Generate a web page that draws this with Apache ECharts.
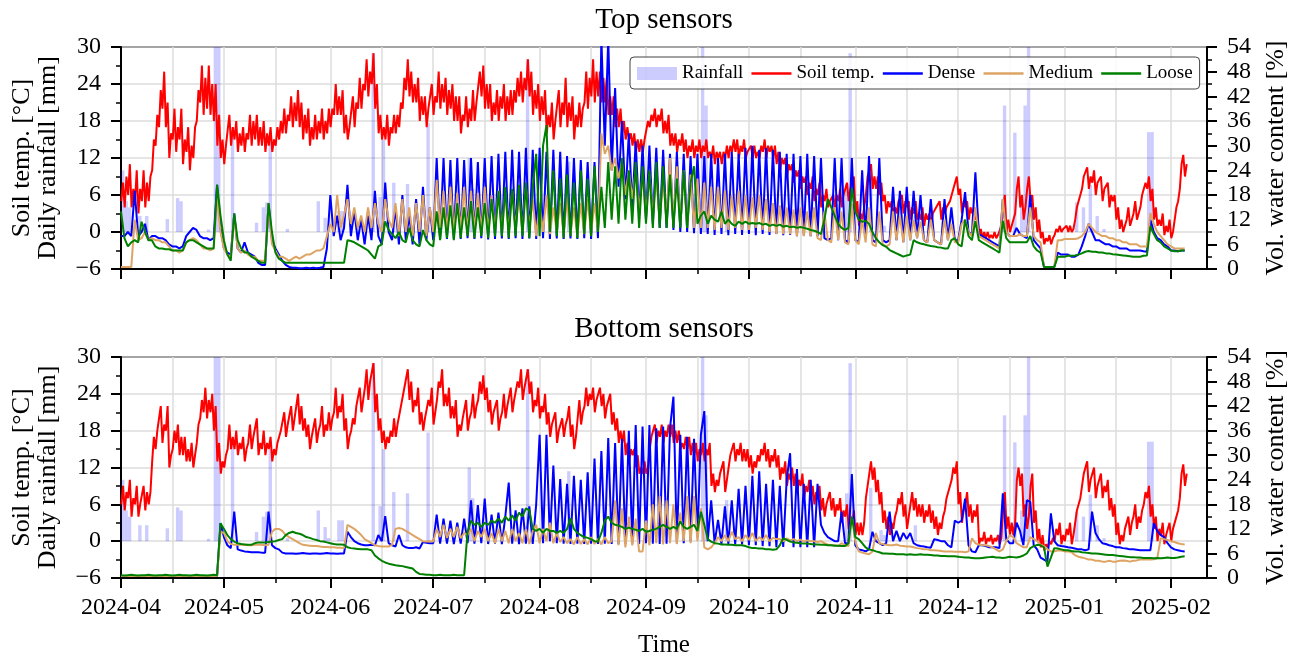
<!DOCTYPE html>
<html><head><meta charset="utf-8">
<script src="https://cdn.jsdelivr.net/npm/echarts@6/dist/echarts.min.js"></script>
<style>html,body{margin:0;padding:0;background:#fff}#c{width:1300px;height:661px}</style>
</head><body><div id="c"></div>
<script>
// Daily values starting 2024-04-01 (index = days since start)
const rainfall = [
10,5,4,0,0,2.6,0,2.6,0,0, 0,0,0,2.1,0,0,5.5,5,0,0, 0,0,0,0,0,0.4,0,30,30,0, 0,0,15.7,0,0,0,0,0,0,1.5,
0,4,4.8,15,0,0,0,0,0.5,0, 0,0,0,0,0,0,0,5,0,2.3, 0.5,0,0,3.4,3.4,0,0,0,0,0, 0,0,0,29,0,5.7,15,0,0,8,
0,0,0,7.8,0,0,0,0,0,17.7, 0,0,0,0,0,0,0,0,0,0, 0,12,7,0,0,0,0,0,0,0, 0,0,0,0,0,0,0,0,28,0,
0,0,0,0,0,0,0,0,0,0, 11.4,0,0,0,0,0,0,0,0,0, 0,0,0,0,0,0,0,0,0,0, 0,0,0,0,0,0,0,0,0,0,
0,0,0,0,0,0,0,0,0,30, 20.5,0,0,0,0,0,6.7,0,0,0, 0,0,0,0,0,0,0,0,0,0, 0,0,0,0,0,0,0,0,0,0,
0,0,0,0,0,0,0,0,0,0, 0,7.8,29,0,0,0,0,0,8.7,0, 0,1.8,1,0,0,0,0,0,0,0, 0,2.6,0,0,0,0,0,0,0,0,
0,0,0,0,0,0,0,0,0,0, 0,0,0,0,0,0,0,20.5,0,0, 16.1,0,5,20.5,30,0,0,0,0,0, 0,0,0,0,0,0,0,0,4.8,0,
4,0,7.6,0,2.6,0,0.5,0,0,0, 0,0,0,0,0,0,0,0,0,16.2, 16.2,0,0,0,0,0,0,0,0,0, 0];

// Soil temperature every 12 h (night value, day value) starting 2024-04-01 00:00
const topTemp = [
5,8,4,9,6,11,4,7,5,10,3,7,5,10,4,8,5,9,10,15,
14,19,17,23,20,26,17,21,12,16,15,20,13,17,15,20,11,15,13,17,
10,14,12,17,18,23,21,27,19,25,20,27,19,24,18,24,14,19,12,15,
11,14,14,19,14,17,15,18,13,16,14,17,13,16,15,19,14,18,15,19,
14,17,14,18,13,16,14,17,13,15,14,17,15,18,16,20,16,19,18,22,
17,21,18,23,17,21,15,19,16,20,14,17,15,19,15,18,16,20,15,18,
16,20,17,20,19,24,19,22,19,23,16,19,15,17,17,22,17,21,20,25,
20,24,23,28,22,26,24,29,20,24,16,19,15,17,15,19,14,17,16,19,
16,19,17,21,20,25,23,28,22,26,21,24,21,25,18,22,19,22,17,20,
20,24,19,22,21,26,20,24,21,25,19,23,20,24,18,22,18,22,16,19,
18,22,17,20,18,23,18,21,21,26,22,27,20,24,20,24,18,21,19,23,
18,22,20,24,18,22,19,23,19,23,21,25,22,26,21,25,23,28,22,26,
19,23,20,24,18,22,19,23,16,19,17,21,15,18,18,23,17,21,19,25,
17,21,18,22,15,19,17,21,17,20,21,26,20,25,22,28,21,26,22,26,
21,25,21,25,19,22,19,22,17,20,17,20,16,18,15,17,15,16,14,16,
13,15,13,15,13,15,15,18,17,19,18,20,17,19,18,20,16,18,16,19,
14,16,14,16,13,15,14,16,13,15,12,14,13,15,12,14,13,15,12,14,
13,15,12,13,12,14,11,13,12,13,11,13,12,14,12,14,13,15,13,15,
12,14,13,15,12,13,13,14,12,14,12,13,12,14,13,15,12,14,13,14,
12,14,11,13,10,12,11,12,9,11,10,11,8,10,9,10,7,9,8,9,
6,8,7,9,5,7,6,8,4,6,5,7,4,5,5,6,4,6,5,7,
4,6,6,8,5,7,7,9,3,5,1,3,2,4,6,9,9,11,7,9,
7,9,6,8,5,6,3,5,4,5,3,4,3,5,5,6,3,5,4,5,
2,4,3,5,2,3,2,4,1,3,2,3,1,3,3,4,4,5,2,4,
3,4,4,5,5,7,7,9,6,7,3,5,4,5,2,4,3,4,2,3,
-0.5,0.5,-1,0,-1,0,-1,-0.5,-1,0,-1,-0.5,-0.5,1,4,6,0,2,0,1,
1,3,7,9,4,6,2,4,7,9,5,6,2,4,0,2,-1,0,-2,-1,
-1.5,-0.5,-2,-1,-0.5,0.5,0,1,0,0.5,0.5,1,0,1,0,0.5,2,4,4,6,
7,9,9,10.5,7,9,8,10,6,8,8,9,5,7,7,8,4,6,5,6,
2,4,0.5,2,0,1,2,4,1,2,3,5,2,3,4,6,6,8,7,9,
5,7,2,4,1,2,1,3,-0.5,1,0,2,-1,0,2,4,5,7,11,12.5,9,11];

const bottomTemp = [
6,9,5,8,7,10,4,7,6,9,4,6,6,9,5,8,6,8,13,17,
15,18,18,22,16,19,18,22,12,14,15,18,16,19,14,17,14,17,13,15,
13,16,12,14,16,19,20,23,21,25,20,23,21,24,18,22,13,16,11,13,
12,14,15,19,15,17,15,18,14,16,15,17,13,15,16,19,15,17,17,20,
14,16,15,18,14,16,15,17,13,15,14,16,16,18,18,21,17,19,19,22,
18,20,20,24,19,22,18,20,17,19,15,17,17,20,16,18,19,22,17,19,
18,21,18,20,21,25,20,22,21,24,18,20,15,17,18,20,19,22,22,25,
21,23,25,28,23,26,26,29,21,24,18,20,16,18,15,17,16,18,17,20,
17,19,19,22,22,25,25,28,23,26,21,23,22,25,19,21,18,20,20,23,
22,25,19,21,23,26,25,28,22,24,22,25,20,22,20,23,17,19,18,20,
20,23,18,20,21,24,20,22,23,26,24,27,23,25,21,23,19,21,21,23,
18,20,21,24,20,22,22,25,21,23,23,26,25,28,23,25,25,28,24,26,
21,23,22,25,20,22,21,24,19,21,17,19,19,21,16,18,18,20,17,19,
20,22,17,19,15,17,20,23,19,21,22,25,22,24,23,25,21,23,23,25,
22,24,20,22,22,24,19,21,18,20,16,18,16,18,14,16,13,15,14,15,
12,14,11,12,11,13,11,12,15,17,17,19,16,18,17,19,16,18,17,19,
17,19,16,18,16,18,15,16,15,17,15,17,14,16,14,16,13,15,14,16,
13,15,14,16,9,11,8,10,9,11,11,13,8,10,12,14,14,16,13,15,
14,16,13,15,13,15,12,14,11,13,12,14,13,15,14,16,13,15,12,14,
13,15,12,14,10,12,11,13,9,11,10,12,9,11,8,10,9,11,7,9,
8,10,7,9,6,8,7,9,5,7,4,6,6,8,5,7,4,6,5,7,
3,5,4,6,2,4,3,5,1,3,1,3,1,3,7,9,11,13,10,12,
8,10,6,8,3,5,2,4,1,3,2,4,5,7,6,8,4,6,2,4,
6,8,5,7,4,6,4,6,3,5,4,6,3,5,2,4,1,3,2,4,
5,7,7,9,10,12,11,13,6,8,3,5,6,8,4,6,3,5,4,6,
-0.5,0.5,0,1.5,-0.5,0.5,0,1,-0.5,0.5,0,1,-0.5,0.5,6,8,2,4,1,3,
1,3,10,12,9,11,4,6,2,4,9,11,3,5,0,2,-1,1,-1.5,-0.5,
-1,0,-0.5,0.5,0,2,1,3,-0.5,1,0,2,1,3,-0.5,1,3,5,5,7,
9,11,11,13,8,10,10,12,7,9,9,11,7,9,8,10,5,7,4,6,
1,3,-0.5,1,0,2,2,4,1,3,4,6,2,4,3,5,6,8,7,9,
4,6,2,4,0,2,1,3,-0.5,1,1,3,0,2,2,4,5,7,11,12.5,9,11];

// Volumetric water content [%], daily
const topDense = [
8,8,9,8,19,8,9,11,7,8, 8,7.5,7.5,7,6,5.5,5.5,5,5.5,8, 9,10,9.5,8,7.5,7.5,7,7.5,20.5,10, 5,4,3.5,13.5,5,4,6.5,4,3.5,3,
1.5,1,1,16,7,5,3.5,2,1,0.5, 0.3,0.3,0.2,0.2,0.3,0.2,0.3,0.2,0.3,0.5, 5,18,8,13,7,10,20.5,8,14,7, 12,6,13,7,19,8,6,21,9,7,
15,6,18,7,13,6,17,6,20,7, 15,7,27,7.3,27,7.3,26.5,7.3,27,7.3, 26.5,7.5,27,7.3,26,7.5,27,7.2,27.5,7.3, 28,7.4,28.5,7.3,29,7.5,28.5,7.3,29.5,7.4,
29,7.3,29.5,7.5,28.5,7.3,29,7.4,28.5,7.3, 27.5,7.4,27,7.3,26.5,7.5,26,7.3,26,7.5, 56,30,56,24,44,20,36,17,33,15, 31,13,30,12,30,11,29.5,10,29,10,
28,9.5,28.5,9,28,9,27.5,8.7,28,8.5, 27.5,8.5,28,8.3,27,8.5,28,8.2,28.5,8.5, 28,8.3,29.5,8.5,30,8.2,29,8.5,29.5,8.3, 29,8.5,28.5,8.2,28,8.3,28,8,27.5,8.2,
28,8,27.5,8,27,7.5,7,7.5,27,7, 27,7,6.5,27,7,6.5,24,7.5,27.5,7, 6.5,27,7,6.5,7,20,7,19,6.5,20, 7,19,7.5,18,7,6.5,17,7,6.5,6,
17,7,15,7,7,12,18.7,9,8.5,23.5, 8.5,8,7.5,7,6.5,6,5.5,17,9,8, 8,10,8.5,8,7.5,18,7,6,5,0.5, 0.5,0.5,0.5,4,3.5,3.5,3.5,3,3,3.5,
5.5,8,11,9,7,7,6.5,6,6,5.5, 5.5,5,5,5,4.5,4.5,4.5,4.5,4.3,4.2, 12,9,7.5,7,6,5.5,4.5,4.5,4.3,4.5, 4.5];

const topMedium = [
0.5,0.5,0.5,0.5,12,7,7.5,9,7,7.5, 7,7,6.5,6.5,5.5,4.5,4.5,4,4.5,6.5, 7,7.5,7,6,5,5,4.5,5,17.3,9, 5,3.5,3,13,5,4,4.5,3.5,3,3,
2,2,2,16,6,4.5,3,3,2.5,2, 2.5,3,2.5,3,3.5,3.5,4,4.5,4.5,5, 8,11,9,18,10,13,17,11,15,10, 13,9,15,10,16,11,9,17,12,10,
16,8,17,9,15,8,16,9,18,8, 15,9,21.7,10,19,9,20,9,18.5,9.5, 20,9,19,9.5,18.5,9,20,9,18,9.5, 19,9,18.5,9,19,10,18,9,20,10,
17,8,16,9,18,8.5,15,9,16,8.5, 17,8.5,15,8,16,8.5,17,8.7,16,9, 33,28,30,24,27,22,26,18,24,17, 24,14,23,13,23,13,22,12,22,12,
27,11,25,11,24,10,23,10,22,10, 21,10,20,9.5,20,10,19,9.5,18,10, 19,9.5,18,9.5,17.5,10,18,9.5,17,9, 16,8.5,15.5,8.5,15,8.5,14.5,8,15,8,
14,8,15,7.5,7,14,7,6.5,15,7, 14,6.5,6,16,7,6,12,6.5,15,6, 5.5,14,6,5.5,6,14,7,13,6.5,13, 7,12,7.5,11.5,7,6.5,12,7,6.5,6,
12,7,11,6.5,6.5,11,12,9,8,15, 8,7.5,7,6.5,6,5.5,5,17,9,8, 8,8,8.5,8,8,15,8,7,6.5,0.5, 0.5,0.5,0.5,7,7,7.3,7.3,7.3,7.3,7.5,
8,9,11,10,9,8.5,8,8,7.5,7.5, 7,7,6.5,6.5,6,6,6,5.5,5.5,5.5, 13.6,11,9,8,7,6,5.5,5,5,5, 5];

const topLoose = [
14,7.5,5.5,6.5,7,6.5,11.5,9,7,7, 5.5,5,5,4.8,4.8,4.5,4.5,4.5,4.5,6.5, 7,7,6.5,6,5.5,5,5,5,20.5,13, 7,3.5,2,13.5,7,5,4,4,3,2.5,
2,1.5,1.5,16,9,4,2.5,2,1.5,1.5, 1.5,1.5,1.5,1.5,1.5,1.5,1.5,1.5,1.5,1.5, 1.5,1.5,1.5,1.5,1.5,1.5,7,6.8,6.5,6, 5.5,5,4.5,3.5,2.5,5.5,6,11.6,9.5,8.5,
7.5,9,7,6.5,10,7,6,5.5,9.5,7, 6,5.5,14,7,15,7.5,15.5,7,16,7.5, 15,8,16.5,7.5,15,8,16,7.5,17,8, 19,8,20,7.5,19.5,8,20.5,8,21,7.5,
20,28,8,30,35,9,24,8,22,7.5, 23,8,21,7.5,24,8.5,22,8,25,9, 20,10,26,12,25,11,27,12,24,11, 26,10,25,11,24,10,26,10,25,10,
23,10,22,10,24,10,21,25,11,13, 14,11,13,12,11.5,14,11,12,11,10.5, 11.5,11,11.5,11,11.2,11,11.2,10.8,11,10.5, 10.8,10.5,10.8,10.3,10.5,10.2,10.3,10,10.2,10,
9.8,9.5,9.3,9,8.5,12,17,15,13,11, 10,9.5,10,19.7,14,12,11.5,11.7,11,9, 7.5,6.5,5.8,5.4,4.6,4.2,3.8,3.4,3,3.3, 3.5,7,6.5,6.2,6,5.8,5.6,5.5,5.3,5.2,
5,5,7,7.5,6,5.5,12,8,7,11.7, 7,6.5,6,5.5,5,4.5,4,11.7,7.5,6.5, 6.5,6.5,6.5,6.5,6.5,8,5.5,4.5,4,0.5, 0.5,0.5,0.5,3,3,3,3.2,3.2,3.3,3.5,
3.8,4.2,4.4,4.2,4.2,4,4,3.8,3.8,3.6, 3.5,3.4,3.3,3.2,3.1,3,3,3,3.2,3.3, 10.4,8.5,7,6.5,5.5,5,4.5,4.3,4.3,4.5, 4.5];

const bottomDense = [
0.5,0.5,0.5,0.5,0.5,0.5,0.5,0.5,0.5,0.5, 0.5,0.5,0.5,0.5,0.5,0.5,0.5,0.5,0.5,0.5, 0.5,0.5,0.5,0.5,0.5,0.5,0.5,0.5,0.5,13.4, 10,8,7.3,16.2,7,6.7,6.5,6.4,6.3,6.3,
6.3,6.2,6.2,16.2,8,7.3,7,6.2,6,6, 6,5.9,6,6.1,6,5.9,6,6,5.9,6, 6.1,6,6,5.9,6,6,11.3,10,9,8.5, 8.2,8,8,8.1,8,10.5,9,15.1,8.5,8,
7.7,10.5,8,7.5,7.3,7.3,7.5,7.2,8.8,8.6, 8.5,8.5,15.5,8.4,14.5,8.4,14,8.3,13.5,8.4, 14.5,8.5,19,8.4,17.8,8.5,19.4,8.3,15.5,8.4, 16,8.3,15,23.3,8.4,16.5,8.3,17,8.4,17.5,
8.3,18,35,8.5,35,9,27.5,8.5,24.2,8.4, 23,8.3,25,8.4,24,8.3,25.8,8.4,29.2,8.3, 31,8.4,34.2,8.3,33,8.4,34,8.3,36,8.4, 37.4,8.3,37,8.5,37.4,8.4,36.6,8.3,37,8.4,
36.6,44.3,8.5,35,8.5,34.5,9,34,10,35, 40.8,9,19,8.5,14.2,8.3,17.5,8.3,19,8.2, 21.8,8.2,22.5,8,25,8,26.1,7.8,23,7.8, 24,7.5,22.5,7.6,24,30.5,7.5,26.6,7.5,23,
7.5,24,7.5,23,13,11,10,9.5,9,9, 16.2,8.5,8.5,25.4,8,7,6.8,6.5,7,11.3, 9,8.5,8,8.5,16.2,9,11.5,9,11,9.5, 11,8.5,8,7.8,7.7,7.5,7.4,9.5,9.3,9,
9,8,7.5,14,13.5,14,19.4,8,6.5,6.3, 8,8,7.8,7.5,7.5,7.5,7.3,20.7,9.5,8.5, 8.5,13.5,11.5,8,19,18.6,8,7,5,4.5, 4,15.8,9,8,7.8,7.7,7.5,7.4,7.2,7,
7,6.8,7,16.2,11,9.5,8.5,8.3,8,7.8, 7.5,7.5,7.3,7.2,7,7,6.9,6.8,6.8,6.8, 6.8,13.4,11.5,10.5,10,8.5,7.5,7,6.8,6.6, 6.5];

const bottomMedium = [
0.5,0.5,0.5,0.5,0.5,0.5,0.5,0.5,0.5,0.5, 0.5,0.5,0.5,0.5,0.5,0.5,0.5,0.5,0.5,0.5, 0.5,0.5,0.5,0.5,0.5,0.5,0.5,0.5,0.5,11.3, 11,9,8.3,8.1,8.1,8.1,8.1,8,8,8.1,
8.1,8.1,8,8.1,11.3,12,12,11.5,10.5,10, 9.5,9,8.5,8.1,8,7.9,7.8,7.8,7.7,7.6, 7.6,7.5,7.5,7.4,7.4,7.3,13,12.5,12,11.3, 10.5,9.5,9,8.5,8,7.8,7.7,7.7,7.7,8.1,
12,12.2,12,11.5,11,10.5,10,9.5,9,8.9, 9,8.9,12,10,13,9.8,12,10,12.5,9.7, 11,10.5,12,9,11.5,10,12,9,11,8.5, 12,9,11.5,8.5,12,9,11,8.5,12,8.3,
11.5,13,8.5,12,9,13.5,8.5,11,8.8,10, 8.5,9.5,8.2,10,8.3,9.5,8.2,10,8.3,9.5, 8.2,10,8.5,9,19,8,17,7.5,15,8, 14.5,6.5,6.5,14,8,18,8.5,20,8.2,19,
8.5,18,8.3,16,9,20,8.5,20,9,17, 7.5,7,7.5,8.5,10,9,10.5,9,11.3,9.5, 10,9,10.5,9.3,11,9,10,9.2,10.5,9, 9.8,9.5,9.5,9,9.7,9.2,9.5,9,9.4,8.9,
9.2,9,9,8.8,9,8.5,8.2,8,8,7.8, 8.5,8,7.8,15,9,6.5,6.2,6,5.8,6.5, 11,8.5,8.3,8.1,8,8,8.2,7.9,7.8,7.7, 7.7,7.5,7.3,7.2,7,7,6.8,6.8,6.7,6.6,
6.5,6.5,6.5,6.4,6.4,6.4,6.3,6.5,9.7,8.5, 8.2,8,8,7.8,7.5,7,6.5,7,9,10.5, 10,8.5,8,7.5,7.5,10,9.5,9,8.1,7.8, 7,6.5,6.5,6.7,6.7,6.5,6.5,6.3,5.6,5.2,
5,4.8,4.5,4.5,4.2,4.2,4,4,4.2,4, 4,4.2,4.3,4.2,4,4.2,4.3,4.5,4.5,4.5, 4.5,4.6,4.8,9.7,9.5,9.3,9,8.8,8.5,8.3, 8.2];

const bottomLoose = [
0.7,0.6,0.7,0.8,0.7,0.6,0.7,0.7,0.8,0.7, 0.6,0.7,0.7,0.8,0.7,0.6,0.7,0.8,0.7,0.7, 0.6,0.7,0.8,0.7,0.7,0.6,0.7,0.8,0.7,13.4, 12,10.5,9.5,8.9,8.5,8.3,8.2,8.1,8.1,8.5,
8.7,8.7,8.7,8.8,8.9,9,9.3,9.5,10.5,11, 11.3,11,10.8,10.5,10,9.8,9.5,9.3,9,8.9, 8.7,8.5,8.3,8.2,8.2,8.1,7.5,7.3,7.2,7.1, 7,7,7,6.8,5.5,4.8,4.2,3.8,3.5,3.3,
3.1,3,2.9,2.7,2.5,2.3,1.5,1,0.9,0.8, 0.8,0.7,0.7,0.8,0.7,0.7,0.7,0.8,0.7,0.7, 0.7,11.3,14,13,13.5,12.5,13.5,13,14,13.5, 14.5,13.5,15,14,15.3,14,16,15,17,16.5,
12,11.5,12,11,12,11.5,11.5,11,11.5,11, 12,14.6,12,11,10.5,10,9.8,9.5,9,8.9, 11,14,15,13.5,13,12.8,12.5,12,12.3,12, 11.8,11.5,12,11.3,11.5,11.8,12,12.5,13,12.5,
12,12.5,12,13.8,12.5,12,12.5,13,11.5,16.2, 13,9.5,8.9,8.5,8.4,8.2,8.2,8.1,8.1,8, 8,8,7.8,7.5,7.3,7.3,7.2,7.2,7,7, 6.9,7,8,9.7,9.3,8.9,8.7,8.6,8.5,8.4,
8.4,8.3,8.2,8.2,8.1,8.1,8,8,7.9,7.9, 7.8,7.8,8.5,15,10,9.5,8.5,7.5,7,6.8, 6.5,6.3,6,6,5.9,5.9,5.8,5.8,5.8,5.7, 5.8,5.7,5.7,5.8,5.7,5.7,5.6,5.5,5.5,5.4,
5.4,5.3,5.3,5.3,5.2,5.1,5,5,4.9,4.8, 4.8,4.9,5,5.1,5.2,5,5,4.9,5,5.2, 5.1,5,5.2,5.5,6,7.3,7.8,8.1,8,7.5, 2.8,5,7.3,7.2,7,6.8,6.8,6.6,6.5,6.5,
6.3,6.2,6.1,6,6,5.9,5.8,5.7,5.6,5.6, 5.5,5.4,5.3,5.2,5.1,5.1,5,5,4.9,4.9, 4.9,4.8,4.9,4.8,4.9,5,4.9,4.9,5,5.2, 5.3];

const seriesNames = ['Rainfall', 'Soil temp.', 'Dense', 'Medium', 'Loose'];
const panelTitles = ['Top sensors', 'Bottom sensors'];
// tick dates: major ticks on month starts, minor ticks on the 16th
const monthTicks = ['2024-04-01','2024-05-01','2024-06-01','2024-07-01','2024-08-01','2024-09-01',
  '2024-10-01','2024-11-01','2024-12-01','2025-01-01','2025-02-01'];
const midMonthTicks = ['2024-04-16','2024-05-16','2024-06-16','2024-07-16','2024-08-16','2024-09-16',
  '2024-10-16','2024-11-16','2024-12-16','2025-01-16'];

const FONT = "'Liberation Serif', 'Times New Roman', serif";
const XMIN = new Date(2024, 3, 1).getTime();
const XMAX = new Date(2025, 1, 11, 12).getTime();
const GRID_C = '#dcdcdc';
const COLORS = {rain: 'rgba(0,0,255,0.2)', temp: '#ff0000', dense: '#0000ff', medium: '#dea464', loose: '#008000'};

function dateVal(s) { const p = s.split('-').map(Number); return new Date(p[0], p[1] - 1, p[2]).getTime(); }
const majorVals = monthTicks.map(dateVal);
const minorVals = midMonthTicks.map(dateVal);

// index i -> timestamp (start + offsetHours + i * stepHours)
function toPairs(arr, stepHours, offsetHours, skipZero) {
  const out = [];
  arr.forEach((v, i) => {
    if (skipZero && v === 0) return;
    out.push([new Date(2024, 3, 1, offsetHours + i * stepHours).getTime(), v]);
  });
  return out;
}

function fmtMonth(val) {
  const d = new Date(val);
  return d.getFullYear() + '-' + String(d.getMonth() + 1).padStart(2, '0');
}

function xAxisMajor(gi, withLabels) {
  return {
    type: 'value', gridIndex: gi, min: XMIN, max: XMAX, position: 'bottom', scale: true,
    axisLine: {show: true, onZero: false, lineStyle: {color: '#000', width: 2}},
    axisTick: {show: true, length: 10, customValues: majorVals, lineStyle: {color: '#000', width: 2}},
    splitLine: {show: true, lineStyle: {color: GRID_C, width: 1.5}},
    axisLabel: {
      show: withLabels, customValues: majorVals, fontSize: 24, color: '#000', fontFamily: FONT, margin: 18,
      hideOverlap: false, formatter: fmtMonth
    },
    name: withLabels ? 'Time' : '', nameLocation: 'middle', nameGap: 55,
    nameTextStyle: {fontSize: 25, color: '#000', fontFamily: FONT}
  };
}
function xAxisMinor(gi) {
  return {
    type: 'value', gridIndex: gi, min: XMIN, max: XMAX, position: 'bottom', scale: true,
    axisLine: {show: false, onZero: false},
    axisTick: {show: true, length: 5, customValues: minorVals, lineStyle: {color: '#000', width: 1.5}},
    splitLine: {show: true, lineStyle: {color: GRID_C, width: 1.5}},
    axisLabel: {show: false, customValues: minorVals, formatter: () => ''}
  };
}

function yLeft(gi) {
  return {
    type: 'value', gridIndex: gi, position: 'left', min: -6, max: 30, interval: 6,
    axisLine: {show: true, onZero: false, lineStyle: {color: '#000', width: 2}},
    axisTick: {show: true, length: 10, lineStyle: {color: '#000', width: 2}},
    minorTick: {show: true, splitNumber: 2, length: 5, lineStyle: {color: '#000', width: 1.5}},
    splitLine: {show: true, lineStyle: {color: GRID_C, width: 1.5}},
    minorSplitLine: {show: false},
    axisLabel: {fontSize: 24, color: '#000', fontFamily: FONT, margin: 20,
      formatter: v => (v < 0 ? '\u2212' + Math.abs(v) : String(v))},
    name: 'Soil temp. [°C]\nDaily rainfall [mm]', nameLocation: 'middle', nameGap: 60, nameRotate: 90,
    nameTextStyle: {fontSize: 26, color: '#000', fontFamily: FONT, lineHeight: 26}
  };
}

function yRight(gi) {
  return {
    type: 'value', gridIndex: gi, position: 'right', min: 0, max: 54, interval: 6,
    axisLine: {show: true, onZero: false, lineStyle: {color: '#000', width: 2}},
    axisTick: {show: true, length: 10, lineStyle: {color: '#000', width: 2}},
    minorTick: {show: true, splitNumber: 2, length: 5, lineStyle: {color: '#000', width: 1.5}},
    splitLine: {show: false},
    axisLabel: {fontSize: 24, color: '#000', fontFamily: FONT, margin: 20},
    name: 'Vol. water content [%]', nameLocation: 'middle', nameGap: 56, nameRotate: 90,
    nameTextStyle: {fontSize: 26, color: '#000', fontFamily: FONT}
  };
}

function line(name, data, xi, yi, color) {
  return {type: 'line', name, xAxisIndex: xi, yAxisIndex: yi, data,
    symbol: 'none', showSymbol: false, lineStyle: {color, width: 2}, itemStyle: {color},
    animation: false, clip: true};
}
function bars(xi, yi) {
  return {type: 'bar', name: 'Rainfall', xAxisIndex: xi, yAxisIndex: yi, data: toPairs(rainfall, 24, 12, true),
    barWidth: 3.4, itemStyle: {color: COLORS.rain}, animation: false, clip: true};
}

const panels = [
  {temp: topTemp, dense: topDense, medium: topMedium, loose: topLoose},
  {temp: bottomTemp, dense: bottomDense, medium: bottomMedium, loose: bottomLoose}
];
const series = [];
panels.forEach((p, i) => {
  series.push(bars(i, 2 * i));
  series.push(line(seriesNames[1], toPairs(p.temp, 12, 2, false), i, 2 * i, COLORS.temp));
  series.push(line(seriesNames[2], toPairs(p.dense, 24, 0, false), i, 2 * i + 1, COLORS.dense));
  series.push(line(seriesNames[3], toPairs(p.medium, 24, 0, false), i, 2 * i + 1, COLORS.medium));
  series.push(line(seriesNames[4], toPairs(p.loose, 24, 0, false), i, 2 * i + 1, COLORS.loose));
});

const hideSym = {opacity: 0};
const chart = echarts.init(document.getElementById('c'), null, {renderer: 'canvas'});
chart.setOption({
  animation: false,
  backgroundColor: '#fff',
  title: [
    {text: panelTitles[0], left: 664, textAlign: 'center', top: 6, padding: 0,
      textStyle: {fontSize: 29, fontWeight: 'normal', color: '#000', fontFamily: FONT}},
    {text: panelTitles[1], left: 664, textAlign: 'center', top: 315, padding: 0,
      textStyle: {fontSize: 29, fontWeight: 'normal', color: '#000', fontFamily: FONT}}
  ],
  legend: {
    left: 630, top: 57, orient: 'horizontal', itemWidth: 40, itemHeight: 13, itemGap: 7,
    padding: [7, 7, 6, 7], backgroundColor: 'rgba(255,255,255,0.85)', borderColor: '#444',
    borderWidth: 1, borderRadius: 4,
    lineStyle: {width: 2.5},
    textStyle: {fontSize: 19, color: '#000', fontFamily: FONT},
    data: [
      {name: seriesNames[0], icon: 'rect'},
      {name: seriesNames[1], itemStyle: hideSym},
      {name: seriesNames[2], itemStyle: hideSym},
      {name: seriesNames[3], itemStyle: hideSym},
      {name: seriesNames[4], itemStyle: hideSym}
    ]
  },
  grid: [
    {left: 121, top: 47, width: 1086, height: 222, show: true, borderColor: '#000', borderWidth: 2, backgroundColor: 'transparent'},
    {left: 121, top: 357, width: 1086, height: 221, show: true, borderColor: '#000', borderWidth: 2, backgroundColor: 'transparent'}
  ],
  xAxis: [xAxisMajor(0, false), xAxisMajor(1, true), xAxisMinor(0), xAxisMinor(1)],
  yAxis: [yLeft(0), yRight(0), yLeft(1), yRight(1)],
  series
});
</script></body></html>
